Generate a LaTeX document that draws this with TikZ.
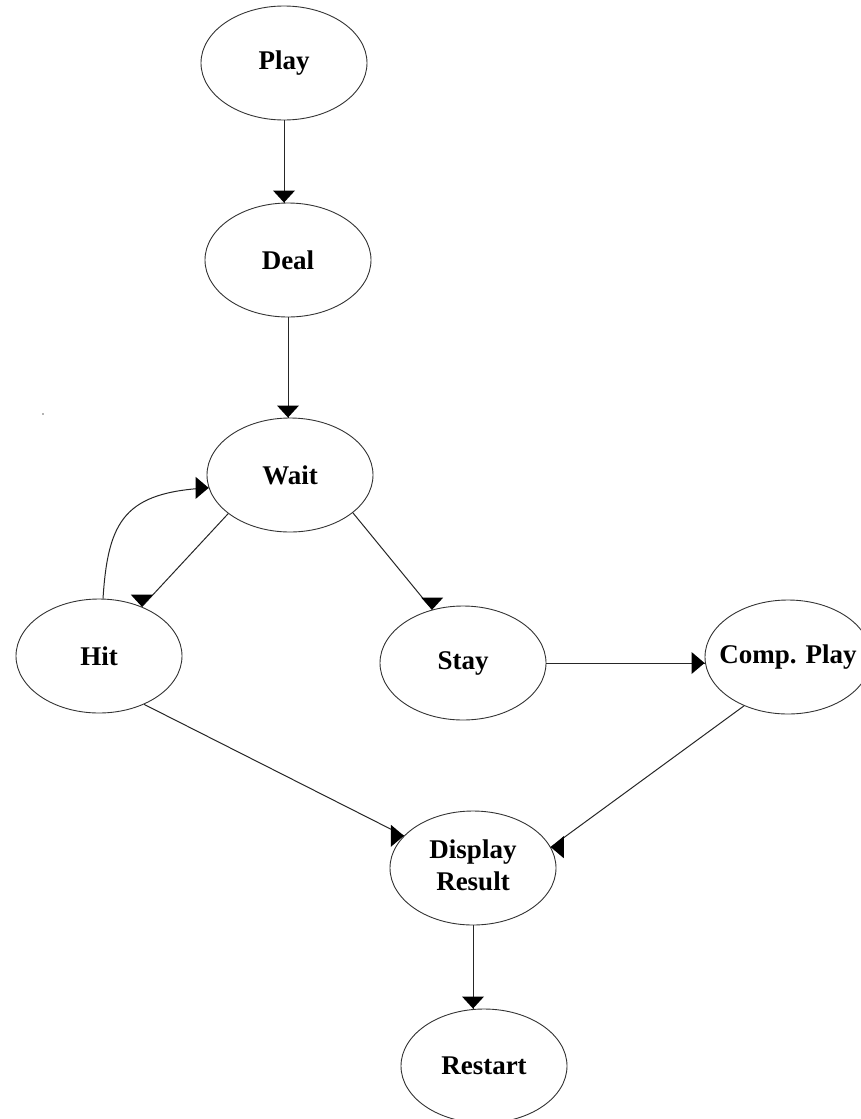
\documentclass[tikz,border=0pt]{standalone}
\usepackage{fontspec}
\setmainfont{Liberation Serif}
\usetikzlibrary{shapes.geometric}
\begin{document}
\begin{tikzpicture}[x=1pt,y=-1pt,
  state/.style={ellipse, draw=black!80, line width=0.9pt,
    minimum width=166pt, minimum height=114pt, inner sep=0pt,
    font=\fontsize{27}{32}\selectfont\bfseries},
  conn/.style={draw=black!85, line width=1pt},
  headdown/.pic={\fill[black] (0,0) -- (-11,-12) -- (11,-12) -- cycle;},
  headright/.pic={\fill[black] (0,0) -- (-13,-11) -- (-13,11) -- cycle;},
  headleft/.pic={\fill[black] (0,0) -- (13,-11) -- (13,11) -- cycle;}]
\useasboundingbox (0,0) rectangle (860,1119);

% states
\node[state] (play)    at (284,63)   {\makebox[0pt]{Play}};
\node[state] (deal)    at (288,260)  {\makebox[0pt]{Deal}};
\node[state] (wait)    at (290,475)  {\makebox[0pt]{Wait}};
\node[state] (hit)     at (99,656)   {\makebox[0pt]{Hit}};
\node[state] (stay)    at (463,663)  {\makebox[0pt]{Stay}};
\node[state] (comp)    at (788,657)  {\makebox[0pt]{Comp. Play}};
\node[state] (disp)    at (473,868)  {\makebox[0pt]{\begin{tabular}{@{}c@{}}Display\\Result\end{tabular}}};
\node[state] (restart) at (484,1066) {\makebox[0pt]{Restart}};

% transitions
\draw[conn] (play.south) -- (play.south |- deal.north) pic {headdown};
\draw[conn] (deal.south) -- (deal.south |- wait.north) pic {headdown};
\draw[conn] (wait.212) -- (hit.49) pic {headdown};
\draw[conn] (hit.86) .. controls (108,520) and (125,492) .. (wait.189) pic {headright};
\draw[conn] (wait.329) -- (stay.120) pic {headdown};
\draw[conn] (stay.east) -- (stay.east -| comp.west) pic {headright};
\draw[conn] (hit.313) -- (disp.155) pic {headright};
\draw[conn] (comp.228) -- (disp.15) pic {headleft};
\draw[conn] (disp.south) -- (disp.south |- restart.north) pic {headdown};

% small speck left of the wait state
\fill[black!60] (43,414) circle (0.8);
\end{tikzpicture}
\end{document}
